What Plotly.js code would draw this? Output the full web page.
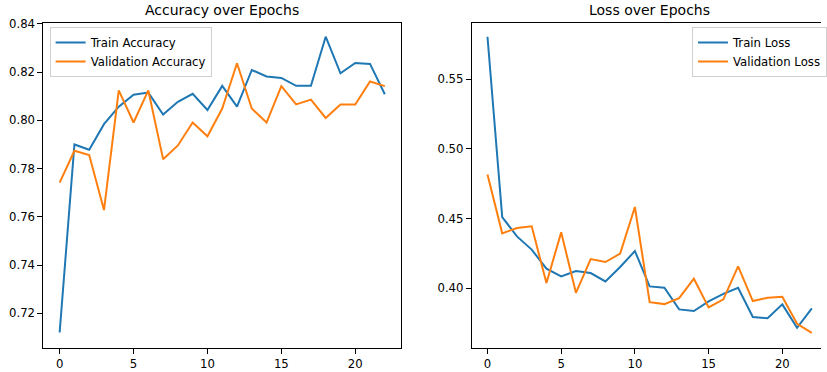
<!DOCTYPE html>
<html>
<head>
<meta charset="utf-8">
<script src="https://cdn.plot.ly/plotly-3.0.1.min.js"></script>
<style>html,body{margin:0;padding:0;background:#fff;}#chart{width:827px;height:372px;}</style>
</head>
<body>
<div id="chart"></div>
<script>
const epochs = [0,1,2,3,4,5,6,7,8,9,10,11,12,13,14,15,16,17,18,19,20,21,22];
const trainAccuracy = [0.712,0.790,0.7878,0.7984,0.8057,0.8106,0.8115,0.8024,0.8077,0.8110,0.8043,0.8143,0.8057,0.8209,0.8182,0.8176,0.8143,0.8143,0.8347,0.8195,0.8238,0.8234,0.8108];
const valAccuracy = [0.7742,0.7874,0.7856,0.7628,0.8124,0.7991,0.8124,0.7839,0.7896,0.7991,0.7934,0.8049,0.8237,0.8049,0.7991,0.8142,0.8066,0.8086,0.8010,0.8066,0.8066,0.8161,0.8142];
const trainLoss = [0.5804,0.4510,0.4371,0.4276,0.4139,0.4084,0.4122,0.4108,0.4048,0.4151,0.4266,0.4012,0.4002,0.3847,0.3835,0.3904,0.3959,0.4002,0.3792,0.3784,0.3883,0.3715,0.3854];
const valLoss = [0.4815,0.4393,0.4431,0.4443,0.4036,0.4400,0.3966,0.4208,0.4187,0.4247,0.4582,0.3899,0.3885,0.3928,0.4067,0.3861,0.3919,0.4156,0.3907,0.3931,0.3938,0.3744,0.3679];
const titles = ["Accuracy over Epochs", "Loss over Epochs"];

const blue = '#1f77b4', orange = '#ff7f0e';
const W = 827, H = 372;
const font = {family: 'DejaVu Sans, sans-serif', size: 11.7, color: '#000'};

const traces = [
  {x: epochs, y: trainAccuracy, name: 'Train Accuracy', type: 'scatter', mode: 'lines', line: {color: blue, width: 2}, xaxis: 'x', yaxis: 'y', legend: 'legend'},
  {x: epochs, y: valAccuracy, name: 'Validation Accuracy', type: 'scatter', mode: 'lines', line: {color: orange, width: 2}, xaxis: 'x', yaxis: 'y', legend: 'legend'},
  {x: epochs, y: trainLoss, name: 'Train Loss', type: 'scatter', mode: 'lines', line: {color: blue, width: 2}, xaxis: 'x2', yaxis: 'y2', legend: 'legend2'},
  {x: epochs, y: valLoss, name: 'Validation Loss', type: 'scatter', mode: 'lines', line: {color: orange, width: 2}, xaxis: 'x2', yaxis: 'y2', legend: 'legend2'}
];

const plotTop = 22.7, plotBottom = 347.7;
const yDom = [(H - plotBottom) / H, (H - plotTop) / H];
const axisCommon = {
  showgrid: false, zeroline: false, showline: true, linecolor: '#000', linewidth: 1,
  ticks: 'outside', ticklen: 5, tickwidth: 1, tickcolor: '#000', tickfont: font, automargin: false
};

const layout = {
  width: W, height: H,
  margin: {l: 0, r: 0, t: 0, b: 0},
  paper_bgcolor: '#fff', plot_bgcolor: '#fff',
  font: font,
  xaxis: Object.assign({}, axisCommon, {domain: [43.7 / W, 404 / W], range: [-1.1, 23.1], dtick: 5, tick0: 0, mirror: true, anchor: 'y'}),
  yaxis: Object.assign({}, axisCommon, {domain: yDom, range: [0.7057, 0.8405], dtick: 0.02, tick0: 0.7, tickformat: '.2f', mirror: true, anchor: 'x'}),
  xaxis2: Object.assign({}, axisCommon, {domain: [475.3 / W, 1], range: [-1.06, -1.06 + 351.7 / 14.85], dtick: 5, tick0: 0, mirror: true, anchor: 'y2'}),
  yaxis2: Object.assign({}, axisCommon, {domain: yDom, range: [0.3572, 0.5905], dtick: 0.05, tick0: 0.35, tickformat: '.2f', mirror: false, anchor: 'x2'}),
  legend: {x: 50 / W, y: (H - 27) / H, xanchor: 'left', yanchor: 'top', bgcolor: 'rgba(255,255,255,0.8)', bordercolor: '#d0d0d0', borderwidth: 1, font: font, tracegroupgap: 0},
  legend2: {x: 697 / W, y: (H - 27) / H, xanchor: 'left', yanchor: 'top', bgcolor: 'rgba(255,255,255,0.8)', bordercolor: '#d0d0d0', borderwidth: 1, font: font, tracegroupgap: 0, entrywidth: 100},
  annotations: [
    {text: titles[0], xref: 'paper', yref: 'paper', x: (43.7 + 404) / 2 / W, y: (H - 10) / H, xanchor: 'center', yanchor: 'middle', showarrow: false, font: {family: 'DejaVu Sans, sans-serif', size: 14, color: '#000'}},
    {text: titles[1], xref: 'paper', yref: 'paper', x: (475.3 + 834) / 2 / W, y: (H - 10) / H, xanchor: 'center', yanchor: 'middle', showarrow: false, font: {family: 'DejaVu Sans, sans-serif', size: 14, color: '#000'}}
  ]
};

Plotly.newPlot('chart', traces, layout, {displayModeBar: false, staticPlot: true});
</script>
</body>
</html>
